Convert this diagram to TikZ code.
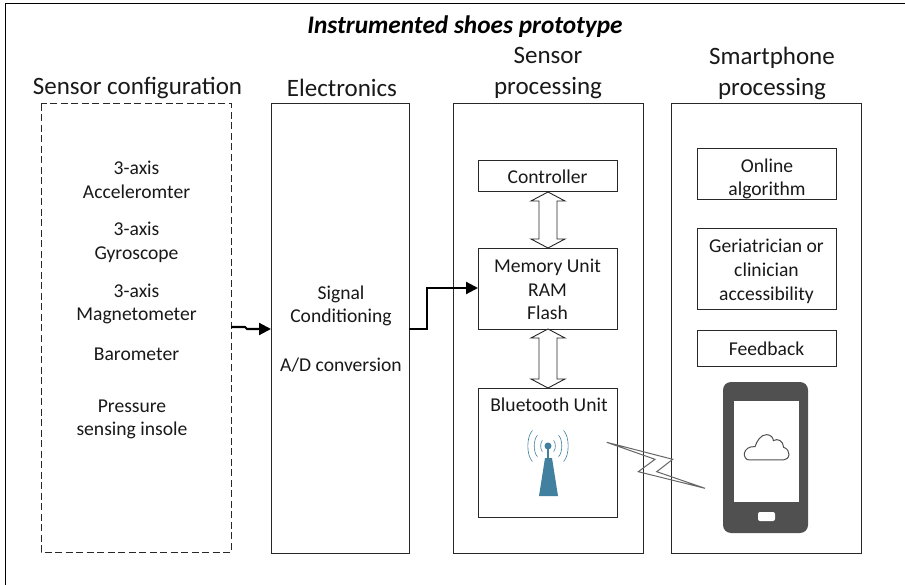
\documentclass[tikz,border=0pt]{standalone}
\usepackage{fontspec}
\setmainfont{Carlito}
\usetikzlibrary{arrows.meta}
\definecolor{frame}{HTML}{282828}
\definecolor{ant}{HTML}{41809F}
\definecolor{phone}{HTML}{505050}
\tikzset{
  x=1pt,y=-1pt,
  ln/.style={draw=frame,line width=1pt},
  txt/.style={font=\fontsize{19.6}{23.7}\selectfont,align=center,inner sep=0pt,text=black!90},
  head/.style={font=\fontsize{25}{31}\selectfont,align=center,inner sep=0pt,text=black!90},
  boxt/.style={ln,txt,inner sep=0pt},
  flow/.style={line width=2.1pt,-{Triangle[length=12pt,width=12pt]},black},
  dbl/.style={draw=black!85,fill=white,line width=0.9pt},
  wave/.style={draw=ant,line width=0.6pt},
}
\newcommand{\dblarrow}[3]{% x, ytop, ybot
  \draw[dbl] (#1,#2) -- ++(17,9) -- ++(-8,0) -- (#1+9,#3-9) -- ++(8,0) -- (#1,#3) -- (#1-17,#3-9) -- ++(8,0) -- (#1-9,#2+9) -- ++(-8,0) -- cycle;
}
\begin{document}
\begin{tikzpicture}
\useasboundingbox (0,0) rectangle (905,585);
\fill[white] (0,0) rectangle (905,585);
\draw[black,line width=1pt] (5,585) -- (5,4) -- (905,4);
\node[font=\fontsize{25.3}{30}\selectfont\bfseries\itshape,inner sep=0pt,text=black] (title) at (465,27) {Instrumented shoes prototype};
\node[head] (h1) at (137.5,88) {Sensor configuration};
\node[head] (h2) at (342,88) {Electronics};
\node[head] (h3) at (548,73.5) {Sensor\\processing};
\node[head] (h4) at (772,73.5) {Smartphone\\processing};
\draw[ln,dash pattern=on 7pt off 3.5pt] (41,104) rectangle (231,552);
\draw[ln] (271,104) rectangle (409,553);
\draw[ln] (453,104) rectangle (643,553);
\draw[ln] (671,104) rectangle (861,553);
\node[txt] (a1) at (136.5,180) {3-axis\\Acceleromter};
\node[txt] (a2) at (136.5,242.5) {3-axis\\Gyroscope};
\node[txt] (a3) at (136.5,304) {3-axis\\Magnetometer};
\node[txt] (a4) at (136.5,354) {Barometer};
\node[txt] (a5) at (132,419.5) {Pressure\\sensing insole};
\node[txt] (sc) at (341,306) {Signal\\Conditioning};
\node[txt] (ad) at (341,365) {A/D conversion};
\node[boxt,minimum width=139pt,minimum height=31pt] (ctrl) at (547.5,176.5) {Controller};
\node[boxt,minimum width=139pt,minimum height=81pt] (mem) at (547.5,289.5) {Memory Unit\\RAM\\Flash};
\draw[ln] (478,388) rectangle (617,517);
\node[txt] (btl) at (549,405) {Bluetooth Unit};
\node[boxt,minimum width=139pt,minimum height=51pt] (algo) at (766.5,174.5) {};
\node[txt] (algot) at (767,179) {Online\\algorithm};
\node[ln,minimum width=139pt,minimum height=81pt,inner sep=0pt] (geri) at (766.5,269.5) {};
\node[txt] (gerit) at (766.5,271.5) {Geriatrician or\\clinician\\accessibility};
\node[boxt,minimum width=139pt,minimum height=35pt] (fb) at (766.5,348.5) {Feedback};
\dblarrow{548}{192}{248}
\dblarrow{548}{329}{388}
\draw[flow] (231,327) -- (245,327) -- (247,329) -- (271,329);
\draw[flow] (409,329) -- (427,329) -- (427,288) -- (478,288);
% antenna
\fill[ant] (545,458) -- (552,458) -- (558,496) -- (539,496) -- cycle;
\fill[ant] (548,446) circle (3.5);
\draw[ant,line width=1.6pt] (548,446) -- (548,459);
\foreach \r in {8,15,22}{
  \draw[wave] (548,446) ++(-\r*0.707,-\r*0.707) .. controls +(-\r*0.28,\r*0.28) and +(-\r*0.28,-\r*0.28) .. ++(0,\r*1.414);
  \draw[wave] (548,446) ++(\r*0.707,-\r*0.707) .. controls +(\r*0.28,\r*0.28) and +(\r*0.28,-\r*0.28) .. ++(0,\r*1.414);
}
% lightning
\draw[draw=black!60,line width=1pt,line join=miter] (606.7,442.3) -- (672.7,459.3) -- (656.7,471.7) -- (705,488.3) -- (638.3,471.7) -- (655,459.3) -- cycle;
% phone
\fill[phone,rounded corners=8pt] (723,382) rectangle (808,533);
\fill[white] (734,401) rectangle (799,502);
\fill[white,rounded corners=2pt] (758,512) rectangle (775,521);
\begin{scope}[shift={(690,370)},x=0.3333pt,y=-0.3333pt]
\draw[phone,line width=1pt] (178,270) .. controls (168,270) and (162,260) .. (163,250)
  .. controls (165,238) and (178,228) .. (195,230)
  .. controls (200,215) and (212,193) .. (230,194)
  .. controls (242,194) and (250,203) .. (250,212)
  .. controls (262,204) and (280,212) .. (281,232)
  .. controls (292,236) and (298,245) .. (297,254)
  .. controls (296,264) and (288,270) .. (280,270) -- cycle;
\end{scope}
\end{tikzpicture}
\end{document}
